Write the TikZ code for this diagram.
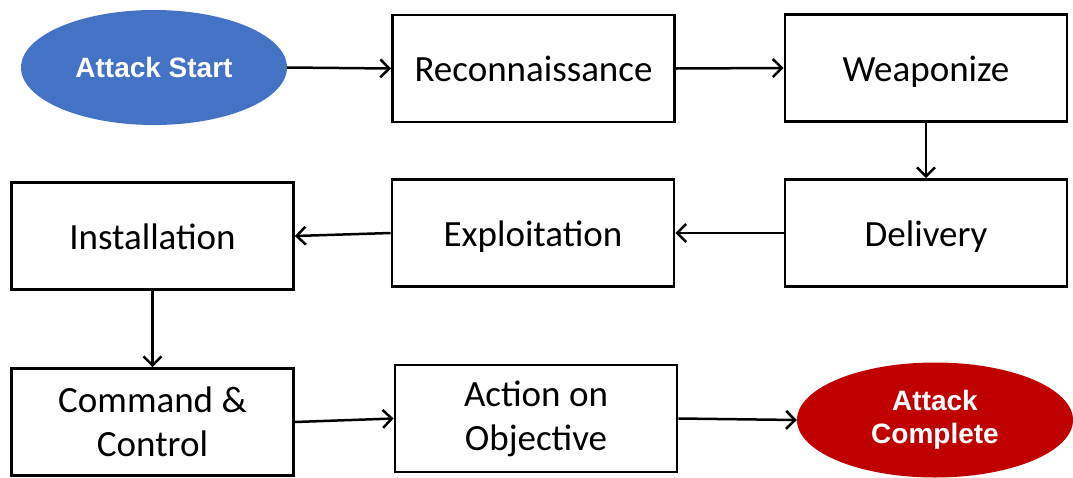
\documentclass[tikz,border=0pt]{standalone}
\usepackage{fontspec}
\setmainfont{Carlito}
\newfontfamily\headfont{Liberation Sans}
\usetikzlibrary{shapes.geometric,arrows.meta}
\definecolor{startblue}{HTML}{4472C4}
\definecolor{endred}{HTML}{C00000}
\tikzset{
  stage/.style={draw=black, line width=2.8pt, fill=white, minimum width=282pt,
    minimum height=107pt, inner sep=0pt, align=center,
    font=\fontsize{37}{44}\selectfont},
  oneline/.style={text height=31pt, text depth=5pt},
  terminal/.style={ellipse, draw=none, inner sep=0pt, align=center,
    text=white, font=\headfont\bfseries\fontsize{28}{33}\selectfont},
  flow/.style={line width=2.5pt, -{Straight Barb[length=9pt,width=18pt,line width=2.5pt]}}
}
\begin{document}
\begin{tikzpicture}[x=1pt,y=-1pt]
\useasboundingbox (0,0) rectangle (1073,477);
% first row
\node[terminal, fill=startblue, minimum width=266pt, minimum height=115pt] (start) at (154,67.5) {Attack Start};
\node[stage, oneline] (recon) at (533.5,68.5) {Reconnaissance};
\node[stage, oneline] (weap) at (926,68) {Weaponize};
% second row
\node[stage, oneline] (deliv) at (926,233) {Delivery};
\node[stage, oneline] (exploit) at (533,233) {Exploitation};
\node[stage, oneline] (install) at (152.5,236) {Installation};
% third row
\node[stage] (cnc) at (152.5,422) {Command \&\\Control};
\node[stage] (action) at (536,418.5) {Action on\\Objective};
\node[terminal, fill=endred, minimum width=276pt, minimum height=115pt] (done) at (935,420) {Attack\\Complete};
% connectors
\draw[flow] (start.east) -- (recon.west);
\draw[flow] (recon.east) -- (weap.west);
\draw[flow] (weap.south) -- (deliv.north);
\draw[flow] (deliv.west) -- (exploit.east);
\draw[flow] (exploit.west) -- (install.east);
\draw[flow] (install.south) -- (cnc.north);
\draw[flow] (cnc.east) -- (action.west);
\draw[flow] (action.east) -- (done.west);
\end{tikzpicture}
\end{document}
